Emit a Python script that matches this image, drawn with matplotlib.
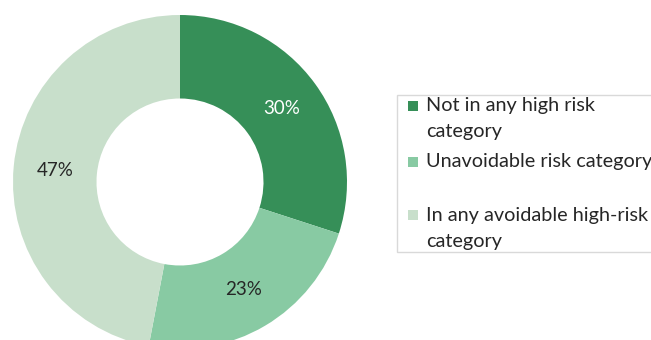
import matplotlib.pyplot as plt
from matplotlib.patches import Rectangle

labels = [["Not in any high risk", "category"],
          ["Unavoidable risk category"],
          ["In any avoidable high-risk", "category"]]
shares = [30, 23, 47]
colors = ["#368F58", "#88CAA3", "#C8DFCB"]
pct_colors = ["white", "#262626", "#262626"]

plt.rcParams['font.family'] = ['Lato', 'DejaVu Sans']

W, H = 651, 340
fig = plt.figure(figsize=(W / 100, H / 100), dpi=100)
ax = fig.add_axes([13 / W, -9 / H, 334 / W, 334 / H])

wedges, texts, autotexts = ax.pie(
    shares, colors=colors, startangle=90, counterclock=False,
    radius=1.0, wedgeprops=dict(width=0.5, linewidth=0),
    autopct=lambda p: f"{p:.0f}%", pctdistance=0.75,
    textprops=dict(fontsize=13.5))
for t, c in zip(autotexts, pct_colors):
    t.set_color(c)

ax.set_xlim(-1, 1)
ax.set_ylim(-1, 1)

# legend box, drawn by hand so the markers sit on the first line
fig.patches.append(Rectangle((397 / W, 1 - 252 / H), 270 / W, 157 / H,
                             transform=fig.transFigure, facecolor='white',
                             edgecolor='#D9D9D9', linewidth=1.0))
entry_tops = [106, 162, 215]
line_gap = 26
for lines, c, y0 in zip(labels, colors, entry_tops):
    fig.patches.append(Rectangle((408 / W, 1 - (y0 + 5) / H), 10 / W, 10 / H,
                                 transform=fig.transFigure, facecolor=c,
                                 edgecolor='none'))
    for k, line in enumerate(lines):
        fig.text(426 / W, 1 - (y0 + k * line_gap) / H, line,
                 fontsize=14.3, color='#262626', va='center')

fig.savefig("out.png", dpi=100)
